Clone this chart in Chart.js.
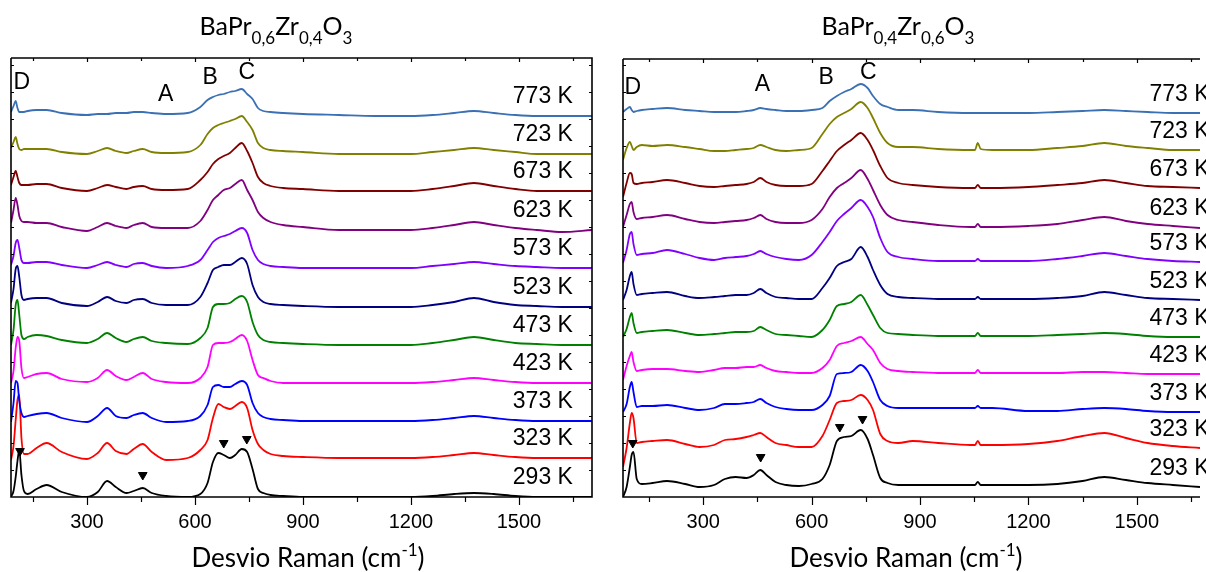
<!DOCTYPE html>
<html lang="en">

<head>
    <meta charset="utf-8" />
    <script src="https://cdn.jsdelivr.net/npm/chart.js@4.4.1/dist/chart.umd.min.js"></script>

    <style>
        html, body { margin: 0; padding: 0; background: #fff; }
        .wrap { position: relative; width: 1206px; height: 572px; overflow: hidden; }
        .panel { position: absolute; top: 0; height: 572px; }
    </style>
</head>

<body>
    <div class="wrap">
        <div class="panel" style="left: 0; width: 600px;"><canvas id="leftChart"></canvas></div>
        <div class="panel" style="left: 600px; width: 606px;"><canvas id="rightChart"></canvas></div>
    </div>

    <script>
        // temperatures, bottom curve first
        const temps = ["293 K", "323 K", "373 K", "423 K", "473 K", "523 K", "573 K", "623 K", "673 K", "723 K", "773 K"];
        const colors = ["#000000", "#ff0000", "#0000ff", "#ff00ff", "#008000", "#000080", "#8000ff", "#800080", "#800000", "#808000", "#3b70b4"];
        const xTicks = [150, 300, 450, 600, 750, 900, 1050, 1200, 1350, 1500, 1650];

        // ---- BaPr0,6Zr0,4O3 (left) ----
        const leftShift = [89, 96, 102, 107, 112, 118, 125, 135, 160, 188, 230, 300, 330, 356, 380, 410, 430, 455, 480, 520, 580, 615, 635, 650, 665, 680, 697, 712, 730, 745, 760, 775, 790, 810, 845, 900, 1000, 1100, 1200, 1260, 1320, 1375, 1430, 1490, 1550, 1620, 1703];
        const leftOffsets = [0, 39, 76, 114, 152, 190, 229, 267, 306, 343, 381];
        const left293 = [0, 6, 20, 36, 47, 22, 6, 3, 8, 12, 5, 0, 5, 16, 10, 4, 6, 9, 4, 1, 0, 3, 14, 35, 44, 42, 39, 42, 48, 45, 28, 8, 4, 2, 1, 0, 0, 0, 0, 1, 3, 4, 3, 1, 0, 0, 0];
        const left323 = [-2, 12, 38, 58, 63, 20, 4, 4, 10, 15, 6, -1, 5, 15, 7, 4, 9, 14, 6, -2, 0, 8, 18, 40, 54, 51, 49, 52, 56, 50, 28, 14, 8, 4, 2, 1, 0, 0, 0, 1, 3, 5, 3, 1, 0, 0, 0];
        const left373 = [-1, 18, 40, 38, 20, 8, 4, 5, 7, 8, 3, -1, 5, 13, 5, 3, 6, 8, 3, -1, 0, 5, 16, 34, 36, 34, 34, 37, 40, 36, 18, 8, 4, 2, 1, 0, 0, 0, 0, 1, 3, 5, 3, 1, 0, 0, 0];
        const left423 = [0, 12, 35, 46, 42, 15, 5, 6, 9, 10, 4, 1, 5, 13, 7, 3, 6, 10, 4, 1, 0, 5, 16, 38, 40, 40, 41, 44, 48, 42, 23, 8, 5, 2, 0, 0, 0, 0, 0, 1, 3, 5, 3, 1, 0, 0, 0];
        const left473 = [0, 15, 40, 45, 30, 10, 6, 8, 10, 9, 5, 2, 6, 12, 7, 3, 6, 8, 4, 2, 1, 7, 17, 38, 41, 41, 42, 46, 49, 43, 23, 10, 5, 3, 2, 1, 0, 0, 0, 2, 5, 8, 5, 2, 1, 0, 0];
        const left523 = [4, 18, 38, 41, 30, 12, 7, 8, 9, 9, 4, 1, 5, 10, 6, 4, 7, 8, 4, 2, 2, 10, 24, 37, 40, 42, 42, 45, 49, 43, 22, 10, 5, 3, 2, 1, 0, 0, 0, 2, 5, 9, 5, 2, 1, 0, 0];
        const left573 = [3, 12, 25, 28, 20, 8, 5, 5, 6, 6, 3, 0, 3, 6, 3, 1, 4, 5, 2, 0, 2, 8, 18, 26, 30, 32, 34, 37, 40, 35, 18, 8, 4, 2, 1, 0, 0, 0, 0, 2, 4, 6, 4, 2, 1, 0, 0];
        const left623 = [7, 20, 32, 25, 14, 9, 8, 8, 7, 7, 3, -1, 3, 7, 4, 2, 5, 7, 3, 2, 2, 9, 20, 30, 35, 40, 42, 46, 50, 40, 30, 18, 12, 8, 5, 3, 0, 0, 0, 2, 5, 8, 5, 2, 0, -2, 0];
        const left673 = [6, 14, 20, 14, 8, 6, 6, 6, 7, 7, 3, 0, 3, 6, 4, 2, 4, 5, 2, 1, 2, 11, 19, 27, 32, 35, 38, 43, 48, 40, 28, 14, 8, 5, 3, 2, 0, 0, 0, 2, 5, 8, 5, 2, 0, 0, 0];
        const left723 = [6, 12, 17, 10, 5, 4, 5, 5, 5, 5, 2, 0, 3, 6, 3, 1, 3, 5, 2, 1, 2, 9, 20, 26, 29, 31, 33, 35, 38, 32, 24, 11, 6, 4, 3, 2, 0, 0, 0, 2, 4, 6, 4, 2, 0, 0, 0];
        const left773 = [4, 10, 15, 8, 4, 4, 4, 5, 6, 6, 3, 1, 2, 2, 3, 3, 4, 4, 3, 2, 3, 9, 16, 19, 21, 22, 24, 25, 27, 22, 17, 8, 5, 4, 3, 2, 1, 0, 0, 1, 3, 5, 3, 1, 0, 0, 0];
        const leftMarkShift = [114, 455, 680, 744];
        const leftMarkLevel = [46, 22, 54, 58];

        // ---- BaPr0,4Zr0,6O3 (right) ----
        const rightShift = [78, 88, 97, 102, 107, 116, 130, 160, 200, 250, 290, 330, 360, 390, 420, 440, 458, 475, 500, 530, 565, 600, 630, 650, 670, 690, 710, 736, 755, 770, 790, 810, 840, 880, 950, 1040, 1052, 1060, 1068, 1100, 1200, 1280, 1350, 1410, 1470, 1530, 1600, 1675];
        const rightOffsets = [10, 49, 85, 123, 160, 197, 235, 270, 309, 347, 384];
        const right293 = [-10, 0, 20, 32, 35, 8, 3, 4, 6, 3, 0, 2, 8, 10, 9, 12, 17, 12, 5, 2, 1, 3, 8, 22, 46, 50, 51, 57, 48, 32, 9, 4, 2, 2, 2, 2, 2, 5, 2, 2, 2, 3, 6, 10, 7, 4, 2, 0];
        const right323 = [-19, 0, 25, 35, 30, 5, 6, 7, 8, 4, 1, 3, 8, 9, 11, 13, 15, 11, 5, 3, 1, 1, 12, 28, 45, 47, 48, 53, 48, 38, 14, 7, 5, 7, 5, 3, 3, 7, 3, 3, 4, 7, 12, 15, 10, 5, 2, 0];
        const right373 = [0, 8, 25, 30, 20, 5, 6, 6, 7, 4, 2, 4, 8, 8, 9, 10, 13, 9, 5, 3, 2, 2, 7, 16, 38, 39, 40, 47, 41, 30, 12, 6, 4, 4, 4, 4, 4, 6, 4, 4, 1, 1, 3, 4, 3, 1, 0, 0];
        const right423 = [-6, 8, 18, 22, 12, 3, 4, 5, 5, 3, 2, 4, 6, 6, 7, 7, 9, 6, 3, 2, 1, 1, 6, 14, 28, 31, 33, 37, 30, 24, 11, 5, 3, 2, 1, 1, 1, 4, 1, 1, 1, 1, 2, 2, 1, 0, 0, 0];
        const right473 = [0, 8, 20, 24, 14, 4, 5, 6, 7, 4, 2, 3, 4, 5, 5, 6, 10, 7, 3, 2, 1, 0, 7, 17, 31, 33, 35, 42, 32, 22, 9, 4, 3, 2, 1, 1, 1, 4, 1, 1, 1, 2, 3, 4, 3, 1, 0, 0];
        const right523 = [0, 10, 24, 28, 16, 5, 6, 7, 8, 4, 2, 3, 4, 5, 5, 7, 11, 7, 3, 2, 1, 1, 12, 22, 34, 38, 41, 53, 43, 30, 15, 6, 3, 2, 1, 1, 1, 3, 1, 1, 1, 2, 4, 8, 5, 2, 1, 0];
        const right573 = [-1, 12, 28, 30, 18, 7, 8, 9, 12, 8, 4, 2, 4, 5, 6, 8, 11, 8, 5, 3, 2, 7, 20, 30, 41, 48, 54, 62, 55, 45, 24, 10, 5, 3, 1, 1, 1, 3, 1, 1, 1, 3, 6, 9, 6, 3, 1, 0];
        const right623 = [0, 12, 23, 25, 15, 8, 9, 10, 12, 8, 5, 4, 5, 6, 7, 9, 12, 8, 5, 4, 4, 7, 18, 30, 39, 44, 49, 57, 48, 37, 22, 12, 7, 5, 2, 0, 0, 3, 0, 0, 1, 3, 7, 10, 6, 3, 1, -1];
        const right673 = [-9, 5, 15, 14, 5, 4, 5, 6, 8, 5, 2, 1, 2, 3, 4, 6, 10, 6, 3, 2, 2, 4, 17, 27, 37, 43, 48, 55, 48, 38, 22, 10, 5, 3, 1, 0, 0, 3, 0, 0, 1, 3, 5, 8, 5, 2, 1, 0];
        const right723 = [-10, 2, 8, 4, 0, 3, 5, 4, 5, 3, 1, -1, -1, 0, 1, 2, 5, 3, 0, -1, 0, 2, 16, 26, 33, 37, 41, 48, 42, 32, 17, 7, 3, 3, 1, 0, 0, 7, 1, 0, 0, 2, 4, 7, 4, 2, 0, 0];
        const right773 = [1, 4, 6, 3, 1, 2, 3, 4, 5, 3, 2, 1, 1, 1, 2, 3, 5, 4, 3, 2, 2, 3, 5, 12, 17, 21, 24, 29, 25, 17, 9, 6, 3, 3, 1, 0, 0, 0, 0, 0, 0, 1, 2, 3, 2, 1, 0, 0];
        const rightMarkShift = [105, 459, 678, 741];
        const rightMarkLevel = [54, 40, 70, 78];

        const leftSpectra = [left293, left323, left373, left423, left473, left523, left573, left623, left673, left723, left773];
        const rightSpectra = [right293, right323, right373, right423, right473, right523, right573, right623, right673, right723, right773];

        // draws text pieces with sub/superscripts, centred on cx
        function drawRich(ctx, parts, cx, baseY, size, family) {
            const small = Math.round(size * 0.66);
            const fontOf = p => (p[1] ? small : size) + "px " + family;
            let total = 0;
            parts.forEach(p => { ctx.font = fontOf(p); total += ctx.measureText(p[0]).width; });
            let xPos = cx - total / 2;
            ctx.textAlign = "left";
            ctx.textBaseline = "alphabetic";
            parts.forEach(p => {
                ctx.font = fontOf(p);
                const dy = p[1] === 1 ? size * 0.36 : p[1] === 2 ? -size * 0.42 : 0;
                ctx.fillText(p[0], xPos, baseY + dy);
                xPos += ctx.measureText(p[0]).width;
            });
        }

        const framePlugin = {
            id: "frame",
            afterDraw(chart, args, opts) {
                const { ctx, chartArea: a, scales: { x, y } } = chart;
                ctx.save();
                ctx.strokeStyle = "#000";
                ctx.fillStyle = "#000";
                ctx.lineWidth = 1.6;

                // box
                ctx.beginPath();
                ctx.moveTo(a.left, a.top);
                ctx.lineTo(a.left, a.bottom);
                ctx.lineTo(a.right, a.bottom);
                if (opts.rightBorder) ctx.lineTo(a.right, a.top);
                else ctx.moveTo(a.right, a.top);
                ctx.lineTo(a.left, a.top);
                ctx.stroke();

                // x ticks: out at bottom, in at top
                ctx.lineWidth = 1.2;
                ctx.beginPath();
                xTicks.forEach(v => {
                    if (v < x.min || v > x.max) return;
                    const px = Math.round(x.getPixelForValue(v)) + 0.5;
                    const major = v % 300 === 0;
                    ctx.moveTo(px, a.bottom);
                    ctx.lineTo(px, a.bottom + (major ? 8 : 5));
                    ctx.moveTo(px, a.top);
                    ctx.lineTo(px, a.top + (major ? 4 : 3));
                });
                // small inward y ticks
                for (let v = 27; v < y.max; v += 27) {
                    const py = Math.round(y.getPixelForValue(v)) + 0.5;
                    ctx.moveTo(a.left, py);
                    ctx.lineTo(a.left + 3, py);
                    if (opts.rightBorder) {
                        ctx.moveTo(a.right, py);
                        ctx.lineTo(a.right - 3, py);
                    }
                }
                ctx.stroke();

                // temperature labels
                ctx.font = "23px 'Liberation Sans', Arial, sans-serif";
                ctx.textAlign = opts.labelAlign;
                ctx.textBaseline = "middle";
                temps.forEach((t, i) => {
                    ctx.fillText(t, x.getPixelForValue(opts.labelShift), y.getPixelForValue(opts.offsets[i] + opts.labelGap));
                });

                // peak letters
                ctx.textAlign = "center";
                opts.letters.forEach(l => {
                    ctx.fillText(l[0], x.getPixelForValue(l[1]), y.getPixelForValue(l[2]));
                });

                // composition title and axis title
                drawRich(ctx, opts.title, a.left + opts.titleDx, 35, 25, "Lato, 'Open Sans', sans-serif");
                drawRich(ctx, [["Desvio Raman (cm", 0], ["-1", 2], [")", 0]], a.left + opts.axisDx, 567, 26, "Lato, 'Open Sans', sans-serif");
                ctx.restore();
            }
        };

        function makeChart(id, shift, spectra, offsets, markShift, markLevel, xMin, xMax, yMax, pad, frame) {
            const datasets = spectra.map((s, i) => ({
                label: temps[i],
                data: s.map((v, k) => ({ x: shift[k], y: offsets[i] + v })),
                borderColor: colors[i],
                borderWidth: 1.8,
                pointRadius: 0,
                cubicInterpolationMode: "monotone",
                fill: false,
                order: spectra.length - i
            }));
            datasets.push({
                label: "marks",
                data: markShift.map((v, k) => ({ x: v, y: markLevel[k] })),
                showLine: false,
                pointStyle: "triangle",
                rotation: 180,
                pointRadius: 5,
                backgroundColor: "#000",
                borderColor: "#000",
                order: 0
            });

            return new Chart(document.getElementById(id), {
                type: "line",
                data: { datasets },
                options: {
                    responsive: true,
                    maintainAspectRatio: false,
                    animation: false,
                    layout: { padding: pad },
                    plugins: {
                        legend: { display: false },
                        tooltip: { enabled: false },
                        frame: frame
                    },
                    scales: {
                        x: {
                            type: "linear",
                            min: xMin,
                            max: xMax,
                            grid: { display: false, drawTicks: false },
                            border: { display: false },
                            afterBuildTicks: scale => { scale.ticks = xTicks.filter(v => v >= xMin && v <= xMax).map(v => ({ value: v })); },
                            afterFit: scale => { scale.height = 75; },
                            ticks: {
                                padding: 13,
                                maxRotation: 0,
                                autoSkip: false,
                                color: "#000",
                                font: { family: "'Liberation Sans', Arial, sans-serif", size: 20 },
                                callback: v => (v % 300 === 0 ? String(v) : "")
                            }
                        },
                        y: {
                            display: false,
                            min: 0,
                            max: yMax
                        }
                    }
                },
                plugins: [framePlugin]
            });
        }

        makeChart("leftChart", leftShift, leftSpectra, leftOffsets, leftMarkShift, leftMarkLevel,
            89, 1703, 439, { left: 11, right: 8, top: 58, bottom: 0 }, {
                rightBorder: true,
                labelShift: 1650,
                labelAlign: "right",
                labelGap: 19,
                offsets: leftOffsets,
                letters: [["D", 119, 414], ["A", 519, 402], ["B", 642, 419], ["C", 744, 424]],
                title: [["BaPr", 0], ["0,6", 1], ["Zr", 0], ["0,4", 1], ["O", 0], ["3", 1]],
                titleDx: 265,
                axisDx: 297
            });

        makeChart("rightChart", rightShift, rightSpectra, rightOffsets, rightMarkShift, rightMarkLevel,
            78, 1675, 438, { left: 23, right: 0, top: 59, bottom: 0 }, {
                rightBorder: false,
                labelShift: 1535,
                labelAlign: "left",
                labelGap: 18,
                offsets: rightOffsets,
                letters: [["D", 105, 409], ["A", 464, 412], ["B", 640, 419], ["C", 757, 424]],
                title: [["BaPr", 0], ["0,4", 1], ["Zr", 0], ["0,6", 1], ["O", 0], ["3", 1]],
                titleDx: 275,
                axisDx: 283
            });
    </script>
</body>

</html>
